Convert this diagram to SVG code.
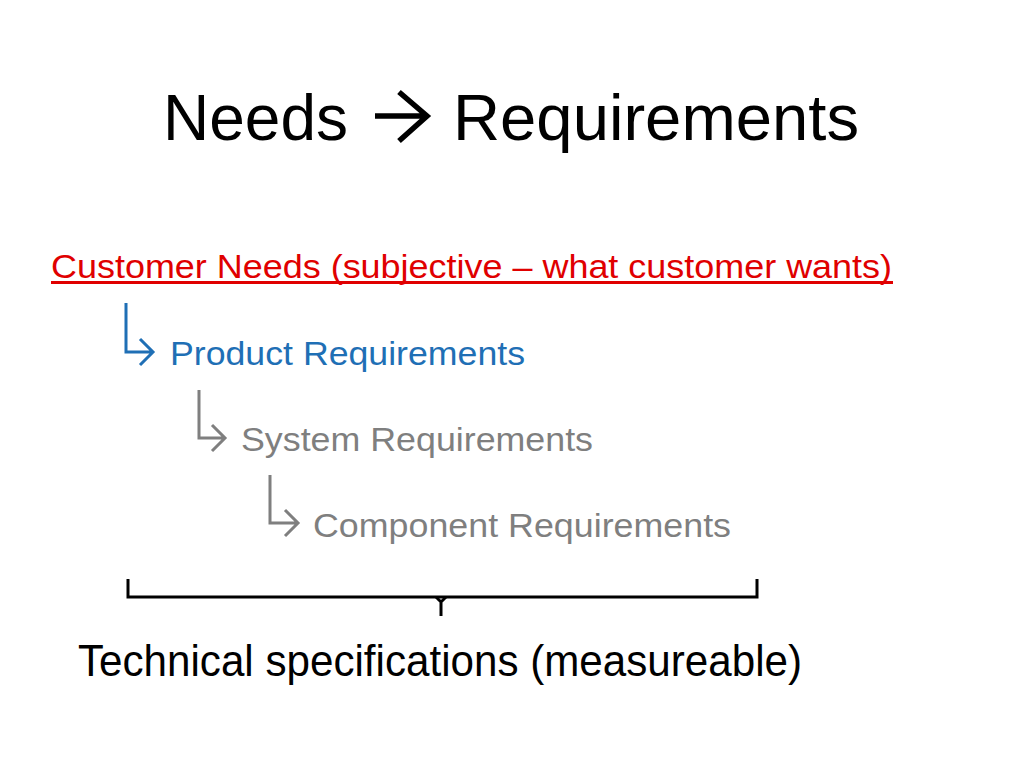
<svg xmlns="http://www.w3.org/2000/svg" width="1024" height="768" viewBox="0 0 1024 768">
<style>
  text { font-family: "Liberation Sans", Arial, sans-serif; }
  .title { font-size: 65px; fill: #000; }
  .lvl { font-size: 34px; }
  .red { fill: #e00000; }
  .blue { fill: #1f6fb5; }
  .gray { fill: #7f7f7f; }
  .arr { fill: none; stroke-width: 3; stroke-linejoin: miter; }
  .brace { fill: none; stroke: #000; stroke-width: 3; }
</style>
<rect width="1024" height="768" fill="#fff"/>
<g id="title">
  <text class="title" x="163" y="140" textLength="185" lengthAdjust="spacingAndGlyphs">Needs</text>
  <path d="M375 116 H427 M399 92 L427 116 L399 141" fill="none" stroke="#000" stroke-width="5.5"/>
  <text class="title" x="453" y="140" textLength="406" lengthAdjust="spacingAndGlyphs">Requirements</text>
</g>
<g id="customer-needs">
  <text class="lvl red" x="51" y="278" textLength="841" lengthAdjust="spacingAndGlyphs">Customer Needs (subjective – what customer wants)</text>
  <rect x="51" y="281" width="842" height="3" fill="#e00000"/>
</g>
<g id="connectors">
  <path class="arr" stroke="#1f6fb5" d="M126 303 V352 H152 M140 339 L153 352 L140 365"/>
  <path class="arr" stroke="#7f7f7f" d="M199 390 V438 H224 M212 425 L225 438 L212 451"/>
  <path class="arr" stroke="#7f7f7f" d="M270 475 V523 H297 M285 510 L298 523 L285 536"/>
</g>
<g id="product-requirements">
  <text class="lvl blue" x="170" y="365" textLength="355" lengthAdjust="spacingAndGlyphs">Product Requirements</text>
</g>
<g id="system-requirements">
  <text class="lvl gray" x="241" y="451" textLength="352" lengthAdjust="spacingAndGlyphs">System Requirements</text>
</g>
<g id="component-requirements">
  <text class="lvl gray" x="313" y="537" textLength="418" lengthAdjust="spacingAndGlyphs">Component Requirements</text>
</g>
<g id="brace">
  <path class="brace" d="M128 579 V597 H757 V579"/>
  <path class="brace" d="M436 597 L441 602 L446 597 M441 600 V616"/>
</g>
<g id="technical-specifications">
  <text x="78" y="676" font-size="44" fill="#000" textLength="724" lengthAdjust="spacingAndGlyphs">Technical specifications (measureable)</text>
</g>
</svg>
